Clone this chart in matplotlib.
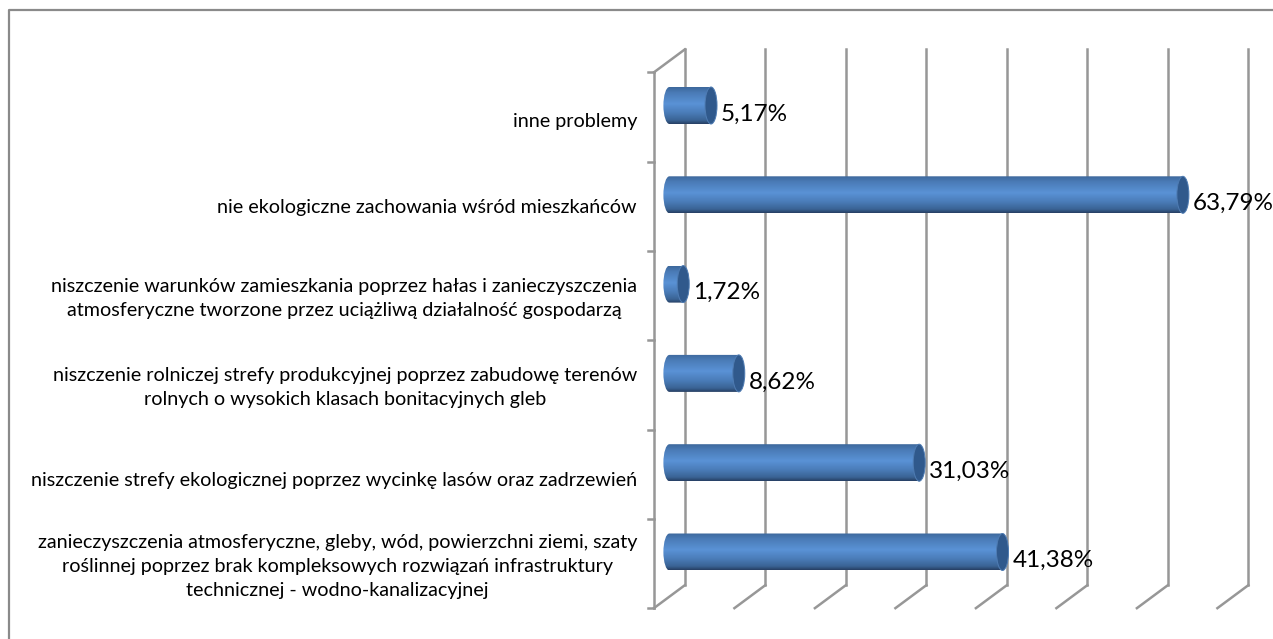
import numpy as np
import matplotlib
matplotlib.use("Agg")
import matplotlib.pyplot as plt
from matplotlib.patches import Ellipse, PathPatch
from matplotlib.path import Path
from matplotlib.colors import LinearSegmentedColormap

labels = [
    "zanieczyszczenia atmosferyczne, gleby, wód, powierzchni ziemi, szaty\nroślinnej poprzez brak kompleksowych rozwiązań infrastruktury\ntechnicznej - wodno-kanalizacyjnej",
    "niszczenie strefy ekologicznej poprzez wycinkę lasów oraz zadrzewień",
    "niszczenie rolniczej strefy produkcyjnej poprzez zabudowę terenów\nrolnych o wysokich klasach bonitacyjnych gleb",
    "niszczenie warunków zamieszkania poprzez hałas i zanieczyszczenia\natmosferyczne tworzone przez uciążliwą działalność gospodarzą",
    "nie ekologiczne zachowania wśród mieszkańców",
    "inne problemy",
]
values = [41.38, 31.03, 8.62, 1.72, 63.79, 5.17]
value_labels = ["41,38%", "31,03%", "8,62%", "1,72%", "63,79%", "5,17%"]
grid_values = [0, 10, 20, 30, 40, 50, 60, 70]
label_nudge_px = [3, 6, 2.5, 3, 1, 4]

W, H = 1273, 639
PX_PER_PCT = 8.05
X0 = 669.4      # piksel dla 0% (srodek glebokosci)
Y0 = 552.0      # piksel srodka pierwszego slupka
PX_PER_CAT = 89.3

plt.rcParams["font.family"] = ["Lato", "DejaVu Sans"]

fig = plt.figure(figsize=(W / 100, H / 100), dpi=100)
ax = fig.add_axes([0, 0, 1, 1])
xlim = (-X0 / PX_PER_PCT, (W - X0) / PX_PER_PCT)
ylim = ((Y0 - H) / PX_PER_CAT, Y0 / PX_PER_CAT)
ax.axis("off")

dx = 15.5 / PX_PER_PCT   # przesuniecie tylnej sciany
dy = 11.5 / PX_PER_CAT
half_h = 18.5 / PX_PER_CAT
cap = 6 / PX_PER_PCT
grey = "#979797"

# ramka wykresu - tylko lewa i gorna krawedz
frame_x = xlim[0] + 9 / PX_PER_PCT
frame_y = ylim[1] - 10 / PX_PER_CAT
ax.plot([frame_x, frame_x, xlim[1]], [ylim[0], frame_y, frame_y],
        color="#8a8a8a", lw=1.6, zorder=0, solid_capstyle="butt")

# siatka
y_front_bot = -0.5 - dy
y_front_top = 5.5 - dy
y_back_bot = -0.5 + dy
y_back_top = 5.5 + dy
for v in grid_values:
    ax.plot([v + dx, v + dx], [y_back_bot, y_back_top], color=grey, lw=1.8, zorder=1)
    ax.plot([v - dx, v + dx], [y_front_bot, y_back_bot], color=grey, lw=1.8, zorder=1)
ax.plot([-dx, -dx], [y_front_bot, y_front_top], color=grey, lw=1.8, zorder=1)
ax.plot([-dx, dx], [y_front_top, y_back_top], color=grey, lw=1.8, zorder=1)
for i in range(len(labels) + 1):
    ax.plot([-dx - 6 / PX_PER_PCT, -dx], [i - 0.5 - dy] * 2, color=grey, lw=1.8, zorder=1)

# slupki - cylindry
cmap = LinearSegmentedColormap.from_list(
    "cyl", [(0, "#263f63"), (0.1, "#3a6394"), (0.3, "#4a7cb8"), (0.55, "#5a92d6"),
            (0.85, "#4a7bb6"), (1, "#3d689c")])
grad = np.linspace(0, 1, 128).reshape(-1, 1)
kappa = 0.5523
codes = [Path.MOVETO, Path.LINETO, Path.LINETO, Path.LINETO,
         Path.CURVE4, Path.CURVE4, Path.CURVE4,
         Path.CURVE4, Path.CURVE4, Path.CURVE4]
for i, v in enumerate(values):
    verts = [
        (0, i - half_h),
        (v, i - half_h),
        (v, i + half_h),
        (0, i + half_h),
        (-cap * kappa, i + half_h),
        (-cap, i + half_h * kappa),
        (-cap, i),
        (-cap, i - half_h * kappa),
        (-cap * kappa, i - half_h),
        (0, i - half_h),
    ]
    body = PathPatch(Path(verts, codes), fc="none", ec="none", zorder=3)
    ax.add_patch(body)
    im = ax.imshow(grad, extent=(-cap, v, i - half_h, i + half_h), origin="lower",
                   cmap=cmap, aspect="auto", zorder=3)
    im.set_clip_path(body)
    ax.add_patch(Ellipse((v, i), 2 * cap, 2 * half_h, fc="#30598c", ec="#4f7cb3",
                         lw=0.7, zorder=4))
    ax.text(v + cap + 4 / PX_PER_PCT, i - 8.5 / PX_PER_CAT, value_labels[i], fontsize=17.5,
            color="black", ha="left", va="center", zorder=5)
    # blok etykiety wyrownany do prawej, linie wysrodkowane
    ax.text(-dx - 17 / PX_PER_PCT, i - dy - label_nudge_px[i] / PX_PER_CAT, labels[i],
            fontsize=14.2, color="black", ha="right", va="center",
            multialignment="center", linespacing=1.5, zorder=5)

ax.set_xlim(xlim)
ax.set_ylim(ylim)
fig.savefig("out.png", dpi=100)
